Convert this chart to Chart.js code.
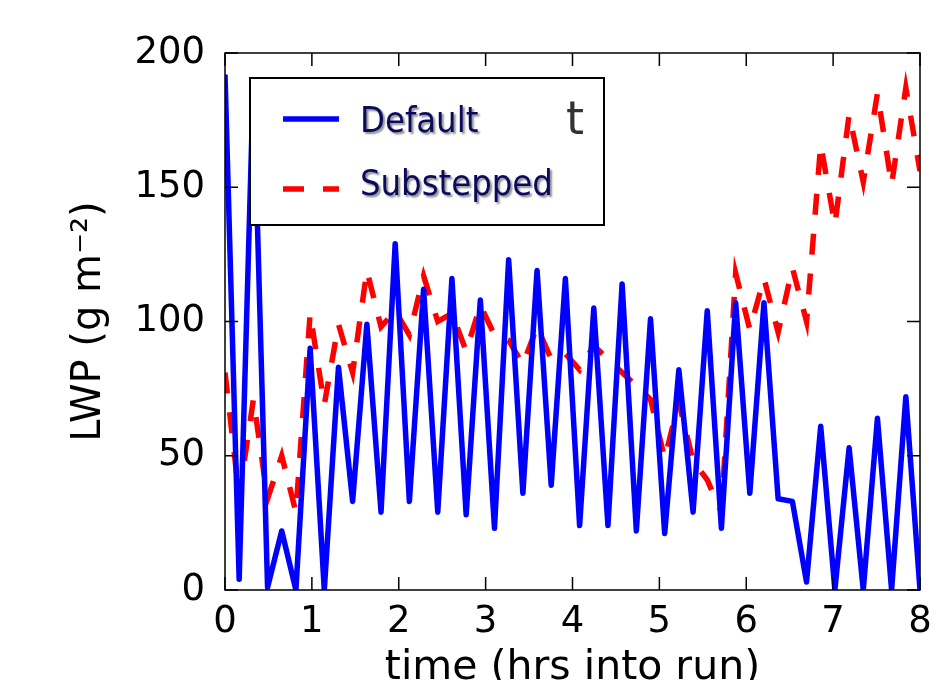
<!DOCTYPE html>
<html>
<head>
<meta charset="utf-8">
<script src="https://cdn.jsdelivr.net/npm/chart.js@4/dist/chart.umd.min.js"></script>
<style>
  html, body { margin: 0; padding: 0; background: #ffffff; }
  #wrap { width: 946px; height: 680px; }
</style>
</head>
<body>
<div id="wrap"><canvas id="c" width="946" height="680"></canvas></div>
<script>
// Time (hrs into run) of each output sample
const times = [0, 0.163, 0.327, 0.490, 0.653, 0.816, 0.980, 1.143, 1.306, 1.469,
  1.633, 1.796, 1.959, 2.122, 2.286, 2.449, 2.612, 2.776, 2.939, 3.102,
  3.265, 3.429, 3.592, 3.755, 3.918, 4.082, 4.245, 4.408, 4.571, 4.735,
  4.898, 5.061, 5.224, 5.388, 5.551, 5.714, 5.878, 6.041, 6.204, 6.367,
  6.531, 6.694, 6.857, 7.020, 7.184, 7.347, 7.510, 7.673, 7.837, 8.000];

// LWP (g m^-2), Default run
const defaultLWP = [192, 4, 190, 1, 22, 0, 90, 0, 83, 33,
  99, 29, 129, 33, 112, 29, 116, 28, 108, 23,
  123, 36, 119, 39, 116, 24, 105, 24, 114, 22,
  101, 21, 82, 29, 104, 23, 107, 36, 107, 34,
  33, 3, 61, 0, 53, 0, 64, 0, 72, 0];

// LWP (g m^-2), Substepped run
const substeppedLWP = [81, 35, 71, 34, 50, 29, 103, 69, 99, 81,
  119, 98, 104, 95, 117, 100, 103, 89, 106, 95,
  93, 84, 98, 86, 88, 82, 91, 86, 81, 76,
  71, 49, 70, 48, 41, 29, 118, 97, 116, 96,
  120, 100, 166, 136, 177, 152, 185, 151, 187, 156];

const seriesNames = ['Default', 'Substepped'];
const xTickValues = [0, 1, 2, 3, 4, 5, 6, 7, 8];
const yTickValues = [0, 50, 100, 150, 200];

const toPoints = (vals) => vals.map((v, i) => ({ x: times[i], y: v }));

const frameAndLegend = {
  id: 'frameAndLegend',
  afterDraw(chart) {
    const ctx = chart.ctx;
    const a = chart.chartArea;
    const xs = chart.scales.x, ys = chart.scales.y;
    ctx.save();
    // plot frame
    ctx.strokeStyle = '#000';
    ctx.lineWidth = 1.5;
    ctx.strokeRect(a.left, a.top, a.right - a.left, a.bottom - a.top);
    // inward ticks
    const tl = 13;
    ctx.beginPath();
    xTickValues.forEach(v => {
      const px = xs.getPixelForValue(v);
      ctx.moveTo(px, a.bottom); ctx.lineTo(px, a.bottom - tl);
      ctx.moveTo(px, a.top); ctx.lineTo(px, a.top + tl);
    });
    yTickValues.forEach(v => {
      const py = ys.getPixelForValue(v);
      ctx.moveTo(a.left, py); ctx.lineTo(a.left + tl, py);
      ctx.moveTo(a.right, py); ctx.lineTo(a.right - tl, py);
    });
    ctx.stroke();

    // legend box
    const bx = 250, by = 78, bw = 354, bh = 147;
    ctx.fillStyle = '#fff';
    ctx.fillRect(bx, by, bw, bh);
    ctx.strokeStyle = '#000';
    ctx.lineWidth = 2;
    ctx.strokeRect(bx, by, bw, bh);

    const ds = chart.data.datasets;
    // Default sample
    ctx.lineWidth = 5.5;
    ctx.strokeStyle = ds[0].borderColor;
    ctx.setLineDash([]);
    ctx.beginPath(); ctx.moveTo(283, 119); ctx.lineTo(339, 119); ctx.stroke();
    // Substepped sample
    ctx.strokeStyle = ds[1].borderColor;
    ctx.setLineDash([21, 19]);
    ctx.beginPath(); ctx.moveTo(283, 189); ctx.lineTo(339, 189); ctx.stroke();
    ctx.setLineDash([]);

    // stray glyph partly visible behind legend
    ctx.fillStyle = '#333';
    ctx.font = '46px "DejaVu Sans"';
    ctx.textBaseline = 'alphabetic';
    ctx.textAlign = 'left';
    ctx.fillText('t', 566, 134);

    // legend labels with soft shadow
    ctx.font = '36px "DejaVu Sans Condensed", "Liberation Sans", sans-serif';
    ctx.fillStyle = '#0b0b5e';
    ctx.shadowColor = 'rgba(0,0,0,0.45)';
    ctx.shadowOffsetX = 2;
    ctx.shadowOffsetY = 2;
    ctx.shadowBlur = 2;
    ctx.fillText(ds[0].label, 360, 132);
    ctx.fillText(ds[1].label, 360, 195);
    ctx.restore();
  }
};

new Chart(document.getElementById('c'), {
  type: 'line',
  data: {
    datasets: [
      {
        label: seriesNames[0],
        data: toPoints(defaultLWP),
        borderColor: '#0000ff',
        borderWidth: 5.5,
        pointRadius: 0,
        tension: 0,
        borderJoinStyle: 'round',
        fill: false,
        clip: 0
      },
      {
        label: seriesNames[1],
        data: toPoints(substeppedLWP),
        borderColor: '#ff0000',
        borderWidth: 5.5,
        borderDash: [21, 19],
        borderCapStyle: 'butt',
        pointRadius: 0,
        tension: 0,
        fill: false,
        clip: 0
      }
    ]
  },
  options: {
    responsive: false,
    devicePixelRatio: 1,
    animation: false,
    layout: { padding: { left: 0, right: 26, top: 53, bottom: 0 } },
    plugins: {
      legend: { display: false },
      tooltip: { enabled: false },
      title: { display: false }
    },
    scales: {
      x: {
        type: 'linear',
        min: 0, max: 8,
        afterBuildTicks: (s) => { s.ticks = xTickValues.map(v => ({ value: v })); },
        afterFit: (s) => { s.height = 90; },
        ticks: {
          color: '#000',
          font: { family: 'DejaVu Sans', size: 37 },
          padding: 10,
          maxRotation: 0,
          autoSkip: false
        },
        grid: { display: false, drawTicks: false },
        border: { display: false },
        title: {
          display: true,
          text: 'time (hrs into run)',
          color: '#000',
          font: { family: 'DejaVu Sans', size: 41 },
          padding: { top: 0, bottom: -13 }
        }
      },
      y: {
        type: 'linear',
        min: 0, max: 200,
        afterBuildTicks: (s) => { s.ticks = yTickValues.map(v => ({ value: v })); },
        afterFit: (s) => { s.width = 225; },
        ticks: {
          color: '#000',
          font: { family: 'DejaVu Sans', size: 37 },
          padding: 20,
          autoSkip: false
        },
        grid: { display: false, drawTicks: false },
        border: { display: false },
        title: {
          display: true,
          text: 'LWP (g m⁻²)',
          color: '#000',
          font: { family: 'DejaVu Sans', size: 40 },
          padding: { top: 66, bottom: 0 }
        }
      }
    }
  },
  plugins: [frameAndLegend]
});
</script>
</body>
</html>
